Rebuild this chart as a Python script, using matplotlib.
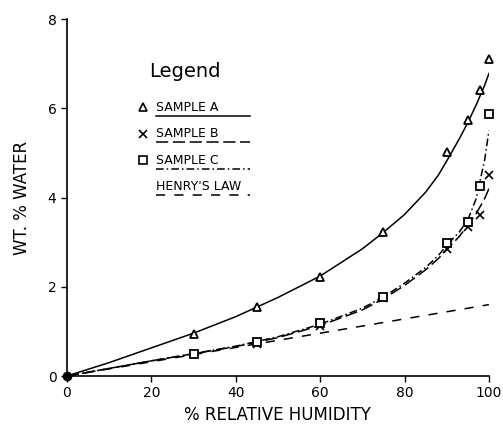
import matplotlib
matplotlib.use("Agg")
import matplotlib.pyplot as plt

# measured points
rh = [0, 30, 45, 60, 75, 90, 95, 98, 100]
sample_a = [0, 0.95, 1.55, 2.22, 3.23, 5.02, 5.73, 6.42, 7.1]
sample_b = [0, 0.5, 0.72, 1.13, 1.75, 2.85, 3.35, 3.6, 4.5]
sample_c = [0, 0.5, 0.77, 1.18, 1.77, 2.98, 3.45, 4.27, 5.88]

# fitted curves
fit_rh = [0, 10, 20, 30, 40, 50, 60, 70, 75, 80, 85, 88, 90, 93, 95, 97, 99, 100]
fit_a = [0, 0.3, 0.63, 0.96, 1.33, 1.76, 2.24, 2.85, 3.22, 3.62, 4.12, 4.5, 4.82, 5.32, 5.68, 6.08, 6.52, 6.78]
fit_b = [0, 0.17, 0.34, 0.5, 0.66, 0.86, 1.13, 1.48, 1.73, 2.03, 2.38, 2.63, 2.83, 3.13, 3.38, 3.64, 3.98, 4.2]
fit_c = [0, 0.17, 0.34, 0.5, 0.67, 0.88, 1.16, 1.52, 1.77, 2.08, 2.43, 2.7, 2.93, 3.23, 3.5, 3.98, 4.85, 5.5]

henry_rh = [0, 100]
henry = [0, 1.6]

legend_labels = ["SAMPLE A", "SAMPLE B", "SAMPLE C", "HENRY'S LAW"]

fig = plt.figure(figsize=(5.03, 4.29), dpi=100)
ax = fig.add_axes([0.133, 0.1235, 0.839, 0.832])

lw = 1.1
ax.plot(fit_rh, fit_a, color="black", lw=lw, linestyle="-")
ax.plot(fit_rh, fit_b, color="black", lw=lw, linestyle=(0, (8, 3)))
ax.plot(fit_rh, fit_c, color="black", lw=lw, linestyle=(0, (5, 2, 1, 2)))
ax.plot(henry_rh, henry, color="black", lw=lw, linestyle=(0, (6, 6)))

# skip the shared origin point, drawn as a solid dot below
ax.plot(rh[1:], sample_a[1:], linestyle="none", marker="^", markersize=6,
        markerfacecolor="white", markeredgecolor="black", markeredgewidth=1.3,
        clip_on=False)
ax.plot(rh[1:], sample_b[1:], linestyle="none", marker="x", markersize=6,
        color="black", markeredgewidth=1.2, clip_on=False)
ax.plot(rh[1:], sample_c[1:], linestyle="none", marker="s", markersize=5.5,
        markerfacecolor="white", markeredgecolor="black", markeredgewidth=1.3,
        clip_on=False)
ax.plot(rh[:1], sample_a[:1], marker="o", markersize=6, color="black",
        clip_on=False, zorder=5)

ax.set_xlim(0, 100)
ax.set_ylim(0, 8)
ax.set_xticks([0, 20, 40, 60, 80, 100])
ax.set_yticks([0, 2, 4, 6, 8])
ax.tick_params(direction="out", length=4, width=1, labelsize=10)
ax.spines["top"].set_visible(False)
ax.spines["right"].set_visible(False)
for s in ("left", "bottom"):
    ax.spines[s].set_linewidth(1.2)

ax.set_xlabel("% RELATIVE HUMIDITY", fontsize=12)
ax.set_ylabel("WT. % WATER", fontsize=12, labelpad=12)

# hand-drawn legend block
ax.text(0.195, 0.852, "Legend", transform=ax.transAxes, fontsize=14, va="center")
legend_styles = ["-", (0, (8, 3)), (0, (5, 2, 1, 2)), (0, (6, 6))]
legend_markers = [dict(marker="^", markerfacecolor="white", markeredgecolor="black"),
                  dict(marker="x", color="black"),
                  dict(marker="s", markerfacecolor="white", markeredgecolor="black"),
                  None]
for i, (lab, ls, mk) in enumerate(zip(legend_labels, legend_styles, legend_markers)):
    y = 0.753 - i * 0.074
    if mk is not None:
        ax.plot([0.181], [y], transform=ax.transAxes, linestyle="none",
                markersize=5.5, markeredgewidth=1.2, **mk)
    ax.text(0.21, y, lab, transform=ax.transAxes, fontsize=9, va="center")
    ax.plot([0.21, 0.435], [y - 0.024, y - 0.024], transform=ax.transAxes,
            color="black", lw=1.1, linestyle=ls)

fig.savefig("out.png", dpi=100)
